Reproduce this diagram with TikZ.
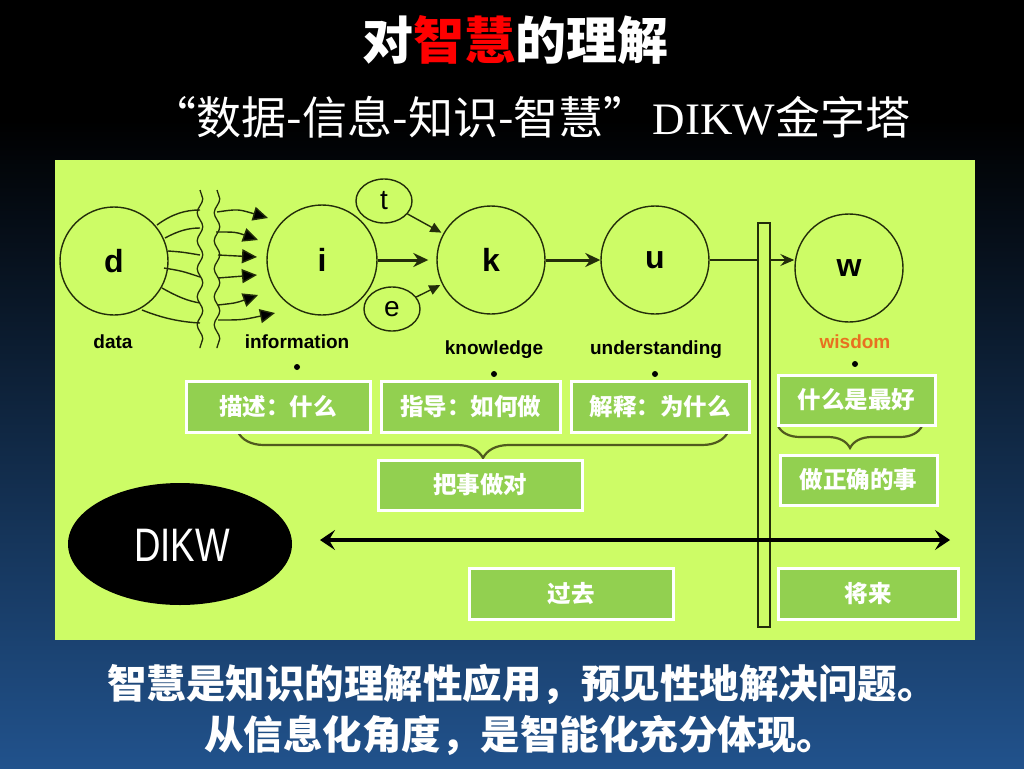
\documentclass[tikz,border=0pt]{standalone}
\usepackage{fontspec}
\setmainfont{Liberation Sans}
\newfontfamily\cjk{Noto Sans CJK SC}
\newfontfamily\serifen{Liberation Serif}
\usetikzlibrary{shapes.geometric,arrows.meta,decorations.pathreplacing,decorations.pathmorphing}
\definecolor{panel}{RGB}{205,252,102}
\definecolor{boxg}{RGB}{146,208,80}
\definecolor{ink}{RGB}{35,45,10}
\definecolor{bracecol}{RGB}{80,90,30}
\definecolor{navy}{RGB}{33,82,140}
\definecolor{wis}{RGB}{232,112,32}
\begin{document}
\begin{tikzpicture}[x=1pt,y=-1pt,
  circ/.style={circle,draw=ink,line width=1.4pt,minimum size=108pt,inner sep=0pt,
    font=\fontsize{32}{32}\selectfont\bfseries},
  smallell/.style={ellipse,draw=ink,line width=1.4pt,minimum width=56pt,minimum height=44pt,
    inner sep=0pt,font=\fontsize{28}{28}\selectfont},
  lbl/.style={font=\fontsize{19}{19}\selectfont\bfseries,text=black,inner sep=0pt},
  dotn/.style={circle,fill=black,inner sep=0pt,minimum size=6pt},
  gbox/.style={draw=white,line width=3pt,fill=boxg,text=white,inner sep=0pt,
    font=\cjk\bfseries\fontsize{23.5}{23.5}\selectfont},
  wavy/.style={ink,line width=1.3pt,decorate,decoration={snake,amplitude=2.8pt,segment length=28pt}},
  fan/.style={ink,line width=1.4pt},
  fanarr/.style={ink,line width=1.4pt,-{Triangle[length=15pt,width=14pt,fill=black]}},
  thickarr/.style={ink,line width=3pt,-{Stealth[length=15pt,width=14pt]}},
  thinarr/.style={ink,line width=1.3pt,-{Stealth[length=14pt,width=12pt,inset=5pt]}},
  smallarr/.style={ink,line width=1.4pt,-{Triangle[length=11pt,width=10pt]}},
  bracep/.style={draw=bracecol,line width=2.2pt,decorate,decoration={brace,mirror,amplitude=#1}},
  bigtext/.style={text=white,inner sep=0pt,font=\cjk\bfseries\fontsize{39.5}{39.5}\selectfont}
]
\useasboundingbox (0,0) rectangle (1024,768);
% background
\fill[black] (0,0) rectangle (1024,768);
\shade[top color=black,bottom color=navy] (0,120) rectangle (1024,768);
\fill[panel] (55,160) rectangle (975,640);

% title
\node[text=white,inner sep=0pt,font=\cjk\bfseries\fontsize{51}{51}\selectfont] (title) at (515,40)
  {对\textcolor{red}{智慧}的理解};
\node[text=white,inner sep=0pt] (subtitle) at (531,117)
  {{\cjk\fontsize{45}{45}\selectfont “数据-信息-知识-智慧”}\hspace{4pt}{\serifen\fontsize{45}{45}\selectfont DIKW}{\cjk\fontsize{45}{45}\selectfont 金字塔}};

% circles
\node[circ] (d) at (114,261) {d};
\node[circ,minimum size=110pt] (i) at (322,260) {i};
\node[circ] (k) at (491,260) {k};
\node[circ] (u) at (655,260) {u};
\node[circ] (w) at (849,268) {w};
\node[smallell] (t) at (384,201) {t};
\node[smallell] (e) at (392,309) {e};

% labels
\node[lbl] (ldata) at (113,342) {data};
\node[lbl] (linfo) at (297,342) {information};
\node[lbl] (lknow) at (494,350) {knowledge};
\node[lbl] (lund) at (656,350) {understanding};
\node[lbl,text=wis] (lwis) at (855,342) {wisdom};
\node[dotn] (dinfo) at (297,367) {};
\node[dotn] (dknow) at (494,374) {};
\node[dotn] (dund) at (655,374) {};
\node[dotn] (dwis) at (855,364) {};

% wavy break lines
\coordinate (wl1) at (200,190); \coordinate (wl2) at (200,348);
\coordinate (wr1) at (217,190); \coordinate (wr2) at (217,348);
\draw[wavy] (wl1) -- (wl2);
\draw[wavy] (wr1) -- (wr2);

% fan curves from d
\draw[fan] (157,225) .. controls (172,214) and (185,210) .. (200,210);
\draw[fan] (165,238) .. controls (178,231) and (188,228) .. (200,228);
\draw[fan] (168,251) .. controls (182,252) .. (200,255);
\draw[fan] (164,268) .. controls (182,271) .. (200,277);
\draw[fan] (162,288) .. controls (178,297) and (188,301) .. (200,303);
\draw[fan] (142,310) .. controls (162,318) and (180,322) .. (200,323);
% fan arrows to i
\draw[fanarr] (217,212) .. controls (238,209) .. (268,218);
\draw[fanarr] (216,232) .. controls (236,232) .. (258,240);
\draw[fanarr] (218,255) -- (257,257);
\draw[fanarr] (218,278) -- (257,275);
\draw[fanarr] (218,305) .. controls (236,303) .. (258,295);
\draw[fanarr] (218,320) .. controls (242,320) .. (275,313);

% arrows between nodes
\draw[thickarr,shorten >=8pt] (i) -- (k);
\draw[thickarr] (k) -- (u);
\draw[smallarr,shorten >=2pt] (t) -- (k);
\draw[smallarr,shorten >=2pt] (e) -- (k);
\draw[thinarr] (u.east) -- (w.west |- u.east);

% vertical bar
\draw[ink,line width=1.3pt,fill=panel] (758,223) rectangle (770,627);

% braces
\draw[bracep=26pt] (238,432) -- (728,432);
\draw[bracep=22pt] (778,426) -- (922,426);

% boxes
\node[gbox,minimum width=184pt,minimum height=51pt] (b1) at (278,406.5) {描述：什么};
\node[gbox,minimum width=179pt,minimum height=51pt] (b2) at (470.5,406.5) {指导：如何做};
\node[gbox,minimum width=178pt,minimum height=51pt] (b3) at (660,406.5) {解释：为什么};
\node[gbox,minimum width=157pt,minimum height=50pt] (b4) at (856.5,400) {什么是最好};
\node[gbox,minimum width=204pt,minimum height=50pt] (b5) at (480,485) {把事做对};
\node[gbox,minimum width=157pt,minimum height=50pt] (b6) at (858.5,480) {做正确的事};
\node[gbox,minimum width=204pt,minimum height=51pt] (b7) at (571,593.5) {过去};
\node[gbox,minimum width=180pt,minimum height=51pt] (b8) at (868,593.5) {将来};

% DIKW ellipse
\node[ellipse,fill=black,minimum width=224pt,minimum height=122pt,inner sep=0pt] (dikw) at (180,544) {};
\node[text=white,inner sep=0pt,font=\fontsize{47}{47}\selectfont] (dikwt) at (182,545) {\scalebox{0.78}[1]{DIKW}};

% time axis
\coordinate (ta) at (320,540);
\coordinate (tb) at (950,540);
\draw[black,line width=4pt,{Stealth[length=15pt,width=20pt,inset=6pt]}-{Stealth[length=15pt,width=20pt,inset=6pt]}] (ta) -- (tb);

% bottom text
\node[bigtext] (l1) at (522,684) {智慧是知识的理解性应用，预见性地解决问题。};
\node[bigtext] (l2) at (520,735) {从信息化角度，是智能化充分体现。};
\end{tikzpicture}
\end{document}
